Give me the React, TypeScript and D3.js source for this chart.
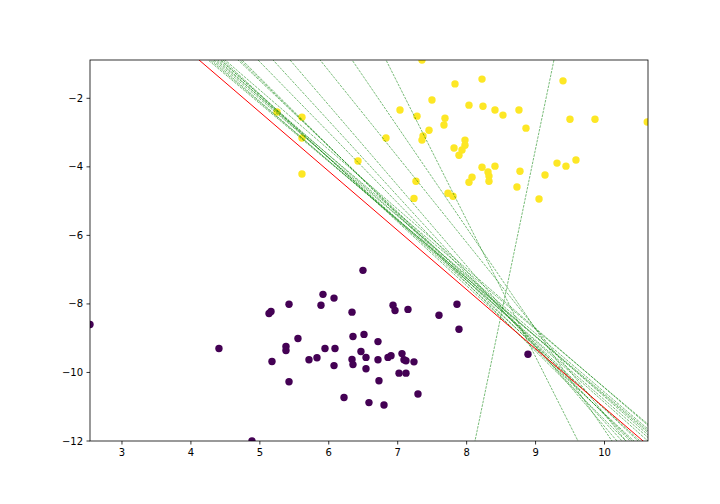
import React from 'react';
import * as d3 from 'd3';

const purpleX = [2.536, 4.407, 4.886, 5.133, 5.162, 5.423, 5.176, 5.379, 5.379, 5.423, 5.553, 5.713, 5.829, 5.887, 5.916, 5.945, 6.076, 6.090, 6.076, 6.221, 6.337, 6.351, 6.337, 6.351, 6.496, 6.511, 6.467, 6.540, 6.540, 6.583, 6.714, 6.714, 6.728, 6.932, 6.961, 7.149, 7.599, 7.860, 7.889, 6.859, 6.903, 7.062, 7.091, 7.120, 7.236, 7.019, 7.120, 7.294, 6.801, 8.890];
const purpleY = [-8.60, -9.30, -12.0, -8.28, -8.22, -8.01, -9.68, -9.24, -9.36, -10.27, -9.01, -9.63, -9.57, -8.04, -7.72, -9.30, -7.83, -9.30, -9.80, -10.73, -8.24, -8.95, -9.62, -9.77, -7.02, -8.89, -9.39, -9.56, -9.89, -10.88, -9.10, -9.63, -10.24, -8.04, -8.19, -8.16, -8.33, -8.01, -8.74, -9.56, -9.51, -9.45, -9.63, -9.66, -9.69, -10.02, -10.02, -10.63, -10.95, -9.47];

const yellowX = [7.352, 7.831, 8.223, 9.398, 7.497, 7.033, 7.280, 8.034, 8.237, 8.411, 8.527, 8.759, 9.499, 9.862, 10.62, 7.686, 7.671, 7.454, 8.861, 6.830, 7.367, 7.352, 7.976, 7.976, 7.817, 7.933, 7.889, 8.223, 8.411, 8.310, 8.324, 8.078, 8.034, 8.324, 8.774, 8.730, 9.137, 9.311, 9.441, 9.586, 9.050, 7.265, 7.236, 7.729, 7.802, 5.249, 5.611, 5.611, 6.424, 5.611];
const yellowY = [-0.88, -1.58, -1.44, -1.49, -2.05, -2.34, -2.52, -2.20, -2.23, -2.34, -2.49, -2.34, -2.61, -2.61, -2.69, -2.58, -2.78, -2.93, -2.87, -3.16, -3.10, -3.22, -3.22, -3.37, -3.45, -3.51, -3.66, -4.01, -3.98, -4.15, -4.27, -4.30, -4.45, -4.42, -4.13, -4.59, -4.24, -3.89, -3.98, -3.80, -4.94, -4.42, -4.92, -4.77, -4.86, -2.40, -2.55, -3.16, -3.83, -4.21];

const redSlope = -1.726;
const redIntercept = 6.226;

const greenSlopes = [-1.696, -1.711, -1.742, -1.711, -1.696, -1.783, -1.762, -1.829, -1.865, -1.738, -1.916, -1.955, -1.996, -2.060, -2.196, -2.344, -2.505, -2.948, -3.992, 9.703];
const greenIntercepts = [6.325, 6.438, 6.621, 6.537, 6.521, 6.953, 6.912, 7.234, 7.447, 6.931, 8.093, 8.332, 8.583, 9.364, 10.519, 11.864, 13.832, 17.802, 26.385, -90.798];

const xTicks = [3, 4, 5, 6, 7, 8, 9, 10];
const yTicks = [-12, -10, -8, -6, -4, -2];

const W = 720, H = 504;
const L = 90, R = 648, T = 60, B = 441;

export default function App() {
  const x = d3.scaleLinear().domain([2.536, 10.631]).range([L, R]);
  const y = d3.scaleLinear().domain([-12, -0.882]).range([B, T]);
  const [x0, x1] = x.domain();
  const lineGen = d3.line<[number, number]>().x(d => x(d[0])).y(d => y(d[1]));
  const seg = (m: number, c: number) => {
    const pts: [number, number][] = [[x0, m * x0 + c], [x1, m * x1 + c]];
    return lineGen(pts) || '';
  };
  const fmt = d3.format('d');
  const purple = purpleX.map((v, i) => [v, purpleY[i]]);
  const yellow = yellowX.map((v, i) => [v, yellowY[i]]);
  return (
    <div style={{ position: 'fixed', left: 0, top: 0 }}>
      <svg width={W} height={H} style={{ display: 'block', background: '#fff' }} fontFamily="DejaVu Sans" fontSize={10}>
        <defs>
          <clipPath id="plotclip">
            <rect x={L} y={T} width={R - L} height={B - T} />
          </clipPath>
        </defs>
        <rect x={0} y={0} width={W} height={H} fill="#fff" />
        <g clipPath="url(#plotclip)">
          {purple.map((p, i) => (
            <circle key={'p' + i} cx={x(p[0])} cy={y(p[1])} r={3.7} fill="#440154" />
          ))}
          {yellow.map((p, i) => (
            <circle key={'y' + i} cx={x(p[0])} cy={y(p[1])} r={3.7} fill="#fde725" />
          ))}
          {greenSlopes.map((m, i) => (
            <path key={'g' + i} d={seg(m, greenIntercepts[i])} fill="none" stroke="#008000" strokeOpacity={0.7} strokeWidth={0.75} strokeDasharray="2.6,1.1" />
          ))}
          <path d={seg(redSlope, redIntercept)} fill="none" stroke="#ff0000" strokeWidth={1} />
        </g>
        <rect x={L} y={T} width={R - L} height={B - T} fill="none" stroke="#000" strokeWidth={0.8} />
        {xTicks.map(t => (
          <g key={'xt' + t} transform={`translate(${x(t)},${B})`}>
            <line y1={0} y2={3.5} stroke="#000" strokeWidth={0.8} />
            <text y={7} dy="0.76em" textAnchor="middle" fill="#000">{fmt(t)}</text>
          </g>
        ))}
        {yTicks.map(t => (
          <g key={'yt' + t} transform={`translate(${L},${y(t)})`}>
            <line x1={0} x2={-3.5} stroke="#000" strokeWidth={0.8} />
            <text x={-7} dy="0.35em" textAnchor="end" fill="#000">{fmt(t)}</text>
          </g>
        ))}
      </svg>
    </div>
  );
}
